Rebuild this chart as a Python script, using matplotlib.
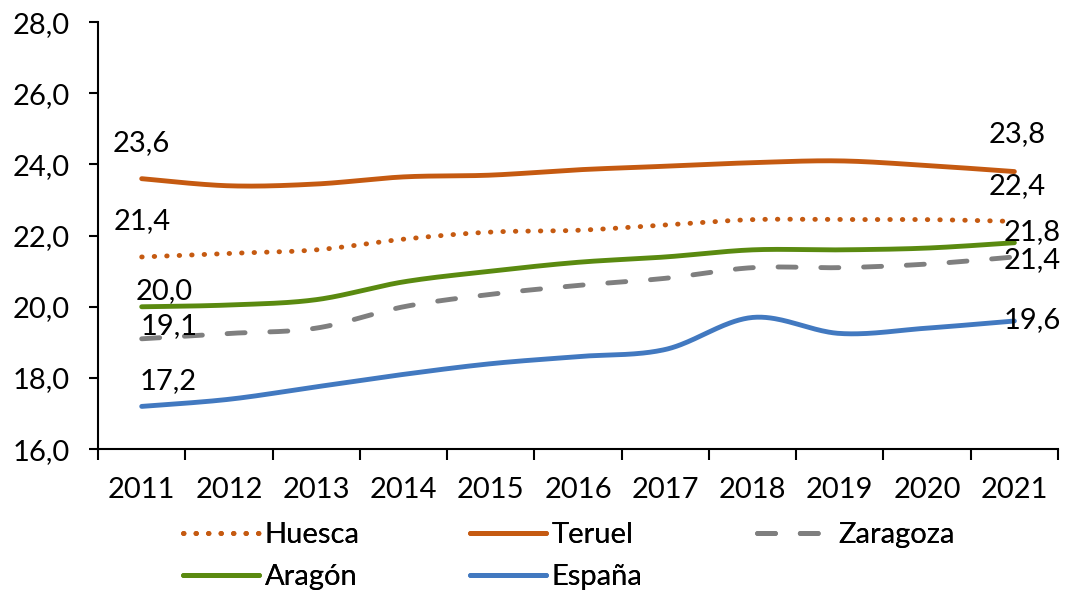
import numpy as np
import matplotlib
matplotlib.use("Agg")
import matplotlib.pyplot as plt

years = ["2011", "2012", "2013", "2014", "2015", "2016", "2017", "2018", "2019", "2020", "2021"]
huesca = [21.4, 21.5, 21.6, 21.9, 22.1, 22.15, 22.3, 22.45, 22.45, 22.45, 22.4]
teruel = [23.6, 23.4, 23.45, 23.65, 23.7, 23.85, 23.95, 24.05, 24.1, 23.97, 23.8]
zaragoza = [19.1, 19.25, 19.4, 20.0, 20.35, 20.6, 20.8, 21.1, 21.1, 21.2, 21.4]
aragon = [20.0, 20.05, 20.2, 20.7, 21.0, 21.25, 21.4, 21.6, 21.6, 21.65, 21.8]
espana = [17.2, 17.4, 17.75, 18.1, 18.4, 18.6, 18.8, 19.7, 19.25, 19.4, 19.6]

plt.rcParams['font.family'] = ['Lato', 'DejaVu Sans']


def smooth(xs, ys, n=40):
    P = np.column_stack([np.asarray(xs, float), np.asarray(ys, float)])
    out = []
    m = len(P)
    for i in range(m - 1):
        p0 = P[i - 1] if i > 0 else P[i]
        p1 = P[i]
        p2 = P[i + 1]
        p3 = P[i + 2] if i + 2 < m else P[i + 1]
        c1 = p1 + (p2 - p0) / 6.0
        c2 = p2 - (p3 - p1) / 6.0
        t = np.linspace(0, 1, n)[:, None]
        seg = ((1 - t) ** 3) * p1 + 3 * ((1 - t) ** 2) * t * c1 + 3 * (1 - t) * t ** 2 * c2 + t ** 3 * p2
        if i > 0:
            seg = seg[1:]
        out.append(seg)
    out = np.vstack(out)
    return out[:, 0], out[:, 1]


fig = plt.figure(figsize=(10.66, 5.98), dpi=100)
ax = fig.add_axes([0.092, 0.249, 0.9005, 0.714])

x = np.arange(len(years))
c_orange = "#C55A11"
c_gray = "#7F7F7F"
c_green = "#5A8A10"
c_blue = "#4279C0"
lw = 3.5

series = [
    ("Huesca", huesca, c_orange, (0, (0.1, 2.47))),
    ("Teruel", teruel, c_orange, "-"),
    ("Zaragoza", zaragoza, c_gray, (0, (3.7, 5.1))),
    ("Aragón", aragon, c_green, "-"),
    ("España", espana, c_blue, "-"),
]
handles = {}
for name, vals, col, ls in series:
    sx, sy = smooth(x, vals)
    ln, = ax.plot(sx, sy, color=col, lw=lw, linestyle=ls,
                  dash_capstyle='round', solid_capstyle='round', label=name)
    handles[name] = ln

fs = 21
ax.set_xlim(-0.5, len(years) - 0.5)
ax.set_ylim(16, 28)
yt = np.arange(16, 28.1, 2)
ax.set_yticks(yt)
ax.set_yticklabels([f"{v:.1f}".replace(".", ",") for v in yt], fontsize=fs)
ax.set_xticks(x)
ax.set_xticklabels(years, fontsize=fs)
ax.set_xticks(np.arange(-0.5, len(years), 1), minor=True)
ax.tick_params(axis='x', which='major', length=0, pad=20)
ax.tick_params(axis='x', which='minor', length=8, width=1.5, direction='out')
ax.tick_params(axis='y', length=6.5, width=1.5, direction='out', pad=14)
for s in ['top', 'right']:
    ax.spines[s].set_visible(False)
for s in ['left', 'bottom']:
    ax.spines[s].set_linewidth(1.5)

# first-year labels
ax.text(0, 23.6 + 1.0, "23,6", ha='center', va='center', fontsize=fs)
ax.text(0, 21.4 + 1.0, "21,4", ha='center', va='center', fontsize=fs)
ax.text(0.26, 20.0 + 0.45, "20,0", ha='center', va='center', fontsize=fs)
ax.text(0.31, 19.1 + 0.35, "19,1", ha='center', va='center', fontsize=fs)
ax.text(0.3, 17.2 + 0.7, "17,2", ha='center', va='center', fontsize=fs)
# last-year labels
ax.text(10.03, 23.8 + 1.05, "23,8", ha='center', va='center', fontsize=fs)
ax.text(10.03, 22.4 + 1.0, "22,4", ha='center', va='center', fontsize=fs)
ax.text(10.2, 21.8 + 0.3, "21,8", ha='center', va='center', fontsize=fs)
ax.text(10.2, 21.4 - 0.1, "21,4", ha='center', va='center', fontsize=fs)
ax.text(10.2, 19.6 + 0.03, "19,6", ha='center', va='center', fontsize=fs)

# legend: three columns placed individually
W, H = 1066.0, 598.0
cols = [(["Huesca", "Aragón"], 183), (["Teruel", "España"], 470), (["Zaragoza"], 757)]
for names, px in cols:
    leg = fig.legend([handles[n] for n in names], names, loc='upper left',
                     bbox_to_anchor=(px / W, 1 - 522 / H), frameon=False, fontsize=fs,
                     handlelength=2.6, handletextpad=0.2, borderpad=0, borderaxespad=0,
                     labelspacing=0.56)
    fig.add_artist(leg)

fig.savefig("out.png", dpi=100)
